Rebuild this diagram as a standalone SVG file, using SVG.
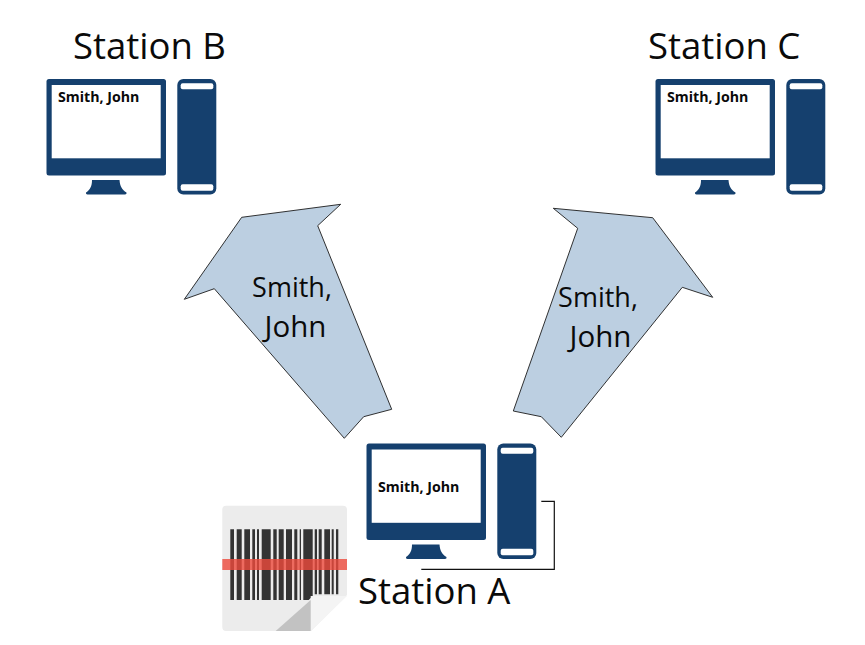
<svg xmlns="http://www.w3.org/2000/svg" xmlns:xlink="http://www.w3.org/1999/xlink" width="865" height="645" viewBox="0 0 865 645">
<style>
.lbl{font-family:"Open Sans","Noto Sans","Liberation Sans",sans-serif;fill:#0a0a0a}
.st{font-size:36.500px}
.arr{font-size:27px;text-anchor:middle}
.jn{font-size:29.500px;text-anchor:middle}
.nm{font-size:14.200px;font-weight:700}
.a{fill:#bccfe1;stroke:#1c1c1c;stroke-width:.9}
.d{fill:#15406e}
.w{fill:#fff}
</style>
<defs>
<g id="pc">
<rect class="d" x="46.500" y="79" width="119.500" height="96.500" rx="2.500"/>
<rect class="w" x="51.700" y="85" width="109" height="73.300"/>
<path class="d" d="M92 180H119.500C120 186 122 190 126.500 192.500Q127 194.500 125 194.500H87.500Q85.500 194.500 86 192.500C90 190 92 186 92 180Z"/>
<rect class="d" x="177.300" y="79" width="39" height="115.500" rx="6"/>
<rect class="w" x="180.700" y="83.300" width="32.600" height="6" rx="2"/>
<rect class="w" x="180.700" y="184.300" width="32.600" height="6.400" rx="2"/>
</g>
</defs>
<g id="connectors">
<polygon id="arrow-a-b" class="a" points="340.700,204.300 241.700,217.300 184.300,299.300 214.300,288.700 344.300,438.300 363.700,416.700 391.700,409.300 317.700,225.700"/>
<polygon id="arrow-a-c" class="a" points="553.300,208.300 652.700,217.700 712.700,297.300 682.300,287.300 561.300,437.300 541.300,416.700 513.300,411 577.700,228.300"/>
<polyline id="cable" fill="none" stroke="#111" stroke-width="1.200" points="541.300,501.300 554.300,501.300 554.300,569.300 421.300,569.300"/>
</g>
<g id="arrow-labels">
<text class="lbl arr" x="292" y="297">Smith,</text>
<text class="lbl jn" x="295.500" y="337">John</text>
<text class="lbl arr" x="598" y="307">Smith,</text>
<text class="lbl jn" x="600.500" y="347">John</text>
</g>
<g id="station-b">
<use xlink:href="#pc" href="#pc"/>
<text class="lbl nm" x="58" y="102">Smith, John</text>
<text class="lbl st" x="73" y="59">Station B</text>
</g>
<g id="station-c">
<use xlink:href="#pc" href="#pc" x="609"/>
<text class="lbl nm" x="667" y="102">Smith, John</text>
<text class="lbl st" x="648" y="59">Station C</text>
</g>
<g id="station-a">
<use xlink:href="#pc" href="#pc" x="320" y="364.500"/>
<text class="lbl nm" x="378" y="492">Smith, John</text>
<text class="lbl st" x="358" y="604">Station A</text>
</g>
<g id="scanner">
<path fill="#ececec" d="M226 505.700H343Q347 505.700 347 509.700V595L311 631H226Q222.300 631 222.300 627V509.700Q222.300 505.700 226 505.700Z"/>
<path fill="#333" d="M230.300 529.300h3.700v70.700h-3.700zM236.700 529.300h5v70.700h-5zM244.300 529.300h5.700v70.700h-5.700zM252.300 529.300h2.700v70.700h-2.700zM257 529.300h2v70.700h-2zM261.700 529.300h9v70.700h-9zM273.300 529.300h3.400v70.700h-3.400zM278.700 529.300h5v70.700h-5zM286 529.300h6v70.700h-6zM294.300 529.300h3v70.700h-3zM299.700 529.300h1.300v70.700h-1.300zM303.300 529.300h9.400v66.700l-4 4h-5.400zM314.700 529.300h2.300v65h-2.300zM318.700 529.300h3v65h-3zM324.300 529.300h5.700v65h-5.700zM331.700 529.300h2v65h-2zM336 529.300h2.300v65h-2.300z"/>
<rect x="222.300" y="559" width="124.700" height="11" fill="#ee4a3c" fill-opacity=".8"/>
<path fill="#f4f4f4" d="M310.700 596H347L310.700 631Z"/>
<path fill="#c2c2c2" d="M275.700 631L310.700 600V631Z"/>
</g>
</svg>
